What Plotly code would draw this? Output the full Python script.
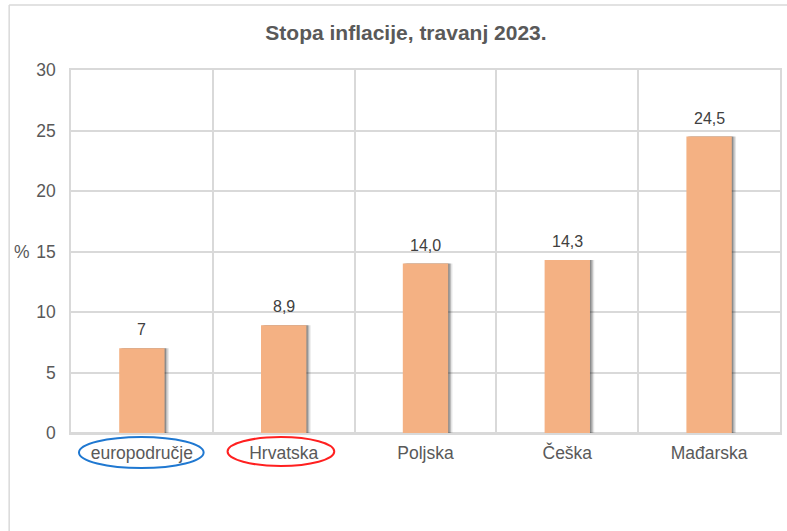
import plotly.graph_objects as go

categories = ["europodručje", "Hrvatska", "Poljska", "Češka", "Mađarska"]
values = [7.0, 8.9, 14.0, 14.3, 24.5]
value_labels = ["7", "8,9", "14,0", "14,3", "24,5"]
y_ticks = [0, 5, 10, 15, 20, 25, 30]

FONT = "Arial, 'Liberation Sans', sans-serif"
GRID = "#D9D9D9"
BAR = "#F4B183"
TXT = "#595959"

# plot area in pixels (for paper-coordinate conversions of decorations)
W, H = 787, 531
L, R, T, B = 71, 5, 70, 98
PW, PH = W - L - R, H - T - B

def px_x(px):
    return (px - L) / PW

def px_y(py):
    return (H - B - py) / PH

BW = 0.32
fig = go.Figure()
# soft shadow layers to the right of each bar
for shift, col in [(0.03, "rgba(0,0,0,0.10)"), (0.02, "rgba(0,0,0,0.18)"), (0.01, "rgba(0,0,0,0.25)")]:
    fig.add_trace(go.Bar(x=categories, y=values, width=BW, offset=-BW / 2 + shift,
                         marker=dict(color=col, line=dict(width=0)),
                         hoverinfo="skip", showlegend=False))
fig.add_trace(go.Bar(x=categories, y=values, width=BW, offset=-BW / 2,
                     marker=dict(color=BAR, line=dict(width=0)),
                     hoverinfo="skip", showlegend=False))

annotations = [dict(text="%", xref="paper", yref="y", x=px_x(22), y=15,
                    xanchor="center", yanchor="middle", showarrow=False,
                    font=dict(family=FONT, size=17.5, color=TXT))]
for c, v, lab in zip(categories, values, value_labels):
    annotations.append(dict(text=lab, x=c, y=v, xref="x", yref="y",
                            xanchor="center", yanchor="bottom", yshift=8,
                            showarrow=False,
                            font=dict(family=FONT, size=16, color="#404040")))

fig.update_layout(
    width=W, height=H,
    margin=dict(l=L, r=R, t=T, b=B),
    paper_bgcolor="white", plot_bgcolor="white",
    barmode="overlay",
    font=dict(family=FONT, color=TXT),
    title=dict(text="<b>Stopa inflacije, travanj 2023.</b>",
               font=dict(family=FONT, size=21, color=TXT),
               x=406 / W, xanchor="center", xref="container",
               y=1 - 33 / H, yanchor="middle", yref="container"),
    xaxis=dict(type="category", tickson="boundaries", showgrid=True, gridcolor=GRID,
               gridwidth=1.5, showline=True, mirror=True, linecolor=GRID, linewidth=1.5,
               ticks="", tickfont=dict(family=FONT, size=17.5, color=TXT),
               ticklabelstandoff=3, range=[-0.5, 4.5]),
    yaxis=dict(range=[0, 30], tickvals=y_ticks, showgrid=True, gridcolor=GRID, gridwidth=1.5,
               showline=True, mirror=True, linecolor=GRID, linewidth=1.5,
               zeroline=True, zerolinecolor=GRID, zerolinewidth=1.5,
               ticks="", tickfont=dict(family=FONT, size=17.5, color=TXT),
               ticklabelstandoff=10),
    annotations=annotations,
    shapes=[
        # outer chart border (left and top visible)
        dict(type="line", xref="paper", yref="paper", x0=px_x(9), x1=px_x(9),
             y0=px_y(531), y1=px_y(5), line=dict(color=GRID, width=1.5)),
        dict(type="line", xref="paper", yref="paper", x0=px_x(9), x1=px_x(790),
             y0=px_y(5), y1=px_y(5), line=dict(color=GRID, width=1.5)),
        # highlight ellipses around labels
        dict(type="circle", xref="paper", yref="paper", x0=px_x(79), x1=px_x(204),
             y0=px_y(468), y1=px_y(437), line=dict(color="#1F78D1", width=2)),
        dict(type="circle", xref="paper", yref="paper", x0=px_x(228), x1=px_x(335),
             y0=px_y(466), y1=px_y(437), line=dict(color="#FF2020", width=2)),
    ],
)

fig.write_html("out.html", config={"displayModeBar": False},
               post_script="document.body.style.margin='0';document.body.style.overflow='hidden';")
